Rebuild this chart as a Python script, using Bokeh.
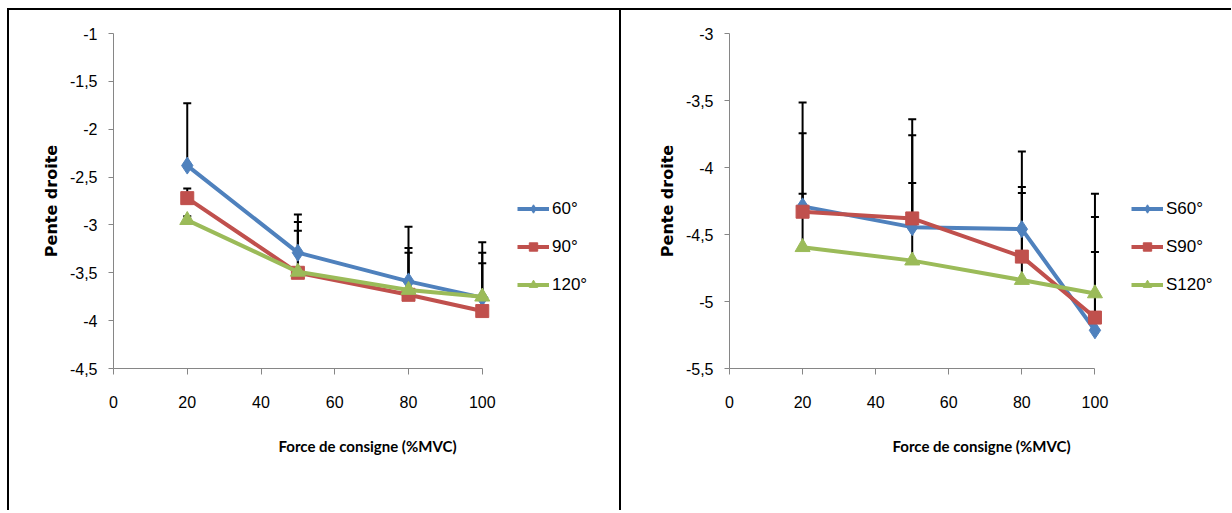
from bokeh.plotting import figure
from bokeh.layouts import row
from bokeh.models import (ColumnDataSource, Whisker, TeeHead, Legend, LegendItem,
                          FixedTicker)
from bokeh.embed import file_html
from bokeh.resources import INLINE

# ---------------- data ----------------
force = [20, 50, 80, 100]

left_names = ["60°", "90°", "120°"]
left_60 = [-2.38, -3.29, -3.59, -3.76]
left_90 = [-2.72, -3.50, -3.73, -3.90]
left_120 = [-2.95, -3.49, -3.68, -3.75]
left_60_err = [0.65, 0.40, 0.57, 0.58]
left_90_err = [0.10, 0.44, 0.49, 0.50]
left_120_err = [0.04, 0.52, 0.39, 0.46]

right_names = ["S60°", "S90°", "S120°"]
right_60 = [-4.29, -4.445, -4.46, -5.215]
right_90 = [-4.33, -4.38, -4.665, -5.12]
right_120 = [-4.595, -4.695, -4.84, -4.94]
right_60_err = [0.545, 0.685, 0.58, 1.02]
right_90_err = [0.815, 0.74, 0.52, 0.75]
right_120_err = [0.40, 0.58, 0.65, 0.31]

x_ticks = [0, 20, 40, 60, 80, 100]
left_y_ticks = [-4.5, -4.0, -3.5, -3.0, -2.5, -2.0, -1.5, -1.0]
right_y_ticks = [-5.5, -5.0, -4.5, -4.0, -3.5, -3.0]

x_title = "Force de consigne (%MVC)"
y_title = "Pente droite"

COLORS = ["#4F81BD", "#C0504D", "#9BBB59"]
MARKERS = ["diamond", "square", "triangle"]
MSIZES = [17, 13, 15]
SANS = "Liberation Sans"


def fmt(v):
    return ("%g" % v).replace(".", ",")


def make_chart(names, series, errs, y_ticks, yr, width, mb_left, px_per_unit, leg_x):
    frame_w = width - mb_left
    p = figure(width=width, height=500, output_backend="svg", toolbar_location=None,
               x_range=(0, frame_w / px_per_unit), y_range=yr,
               frame_width=frame_w, frame_height=333,
               min_border_left=mb_left, min_border_right=0,
               min_border_top=23, min_border_bottom=144)
    p.xgrid.visible = False
    p.ygrid.visible = False
    p.outline_line_color = None
    p.background_fill_color = "white"
    p.border_fill_color = "white"

    for ax, ticks in ((p.xaxis[0], x_ticks), (p.yaxis[0], y_ticks)):
        ax.ticker = FixedTicker(ticks=ticks)
        ax.major_label_overrides = {t: fmt(t) for t in ticks}
        ax.axis_line_color = "#868686"
        ax.major_tick_line_color = "#868686"
        ax.minor_tick_line_color = None
        ax.major_tick_in = 0
        ax.major_label_text_font = SANS
        ax.major_label_text_font_size = "16px"
        ax.major_label_text_color = "black"
    p.xaxis.bounds = (0, 100)
    p.xaxis.major_tick_out = 6
    p.yaxis.major_tick_out = 5
    p.xaxis.major_label_standoff = 21
    p.yaxis.major_label_standoff = 11

    p.xaxis.axis_label = x_title
    p.xaxis.axis_label_text_font = "Lato"
    p.xaxis.axis_label_text_font_size = "15px"
    p.xaxis.axis_label_text_font_style = "bold"
    p.xaxis.axis_label_standoff = 26
    p.xaxis.axis_label_text_color = "black"

    p.yaxis.axis_label = y_title
    p.yaxis.axis_label_text_font = "DejaVu Sans"
    p.yaxis.axis_label_text_font_size = "16px"
    p.yaxis.axis_label_text_font_style = "bold"
    p.yaxis.axis_label_standoff = 6
    p.yaxis.axis_label_text_color = "black"

    # error bars (plus direction)
    for vals, err in zip(series, errs):
        src = ColumnDataSource(dict(x=force, lower=vals,
                                   upper=[v + e for v, e in zip(vals, err)]))
        w = Whisker(source=src, base="x", lower="lower", upper="upper",
                    dimension="height", line_color="black", line_width=2,
                    lower_head=None,
                    upper_head=TeeHead(size=8, line_color="black", line_width=2))
        p.add_layout(w)

    items = []
    for name, vals, c, m, s in zip(names, series, COLORS, MARKERS, MSIZES):
        src = ColumnDataSource(dict(x=force, y=vals))
        r1 = p.line("x", "y", source=src, line_color=c, line_width=4)
        r2 = p.scatter("x", "y", source=src, marker=m, size=s,
                       fill_color=c, line_color=c)
        items.append(LegendItem(label=name, renderers=[r1, r2]))

    leg = Legend(items=items, location=(leg_x, 73), orientation="vertical",
                 glyph_width=32, glyph_height=21, label_height=21,
                 label_standoff=3, spacing=17, padding=0, margin=0,
                 border_line_color=None, background_fill_alpha=0,
                 label_text_font=SANS, label_text_font_size="17px",
                 label_text_color="black")
    p.add_layout(leg)
    return p


p1 = make_chart(left_names, [left_60, left_90, left_120],
                [left_60_err, left_90_err, left_120_err],
                left_y_ticks, (-4.5, -1.0), 610, 104, 3.673, 404)
p2 = make_chart(right_names, [right_60, right_90, right_120],
                [right_60_err, right_90_err, right_120_err],
                right_y_ticks, (-5.5, -3.0), 610, 108, 3.64, 402)

for p in (p1, p2):
    p.styles = {"border-left": "2px solid black", "border-top": "2px solid black",
                "box-sizing": "border-box"}

layout = row(p1, p2, spacing=0, margin=(8, 0, 0, 7))
open("out.html", "w").write(file_html(layout, INLINE))
